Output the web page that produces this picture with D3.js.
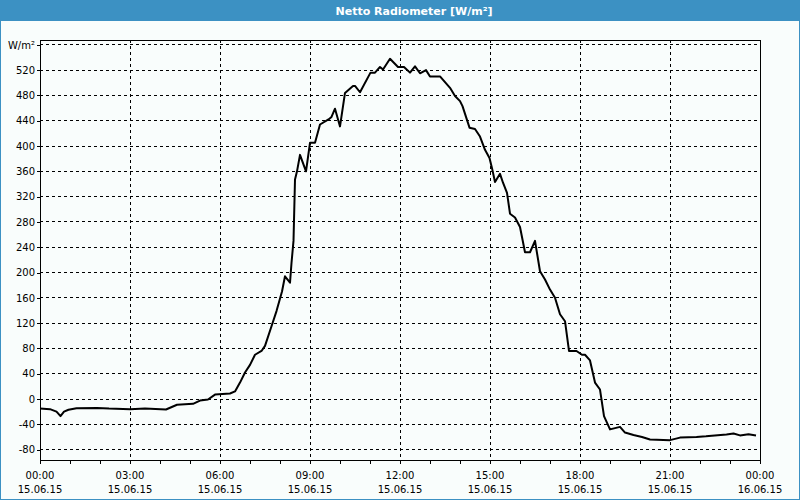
<!DOCTYPE html>
<html>
<head>
<meta charset="utf-8">
<script src="https://cdn.jsdelivr.net/npm/d3@7"></script>
<style>
  html, body { margin: 0; padding: 0; background: #fff; }
  svg { display: block; }
  text { font-family: "DejaVu Sans", Verdana, sans-serif; }
</style>
</head>
<body>
<svg id="chart" width="800" height="500"></svg>
<script>
// ---- data ----
const title = "Netto Radiometer [W/m²]";
const unitLabel = "W/m²";
const times = ["00:00","00:20","00:33","00:41","00:48","00:57","01:13","01:54","02:18","03:00",
  "03:30","04:12","04:34","05:06","05:20","05:36","05:50","06:20","06:30","06:40",
  "06:50","07:00","07:10","07:23","07:30","07:43","07:53","08:04","08:10","08:20",
  "08:23","08:27","08:30","08:34","08:40","08:52","09:00","09:10","09:20","09:37",
  "09:43","09:50","10:00","10:10","10:26","10:30","10:40","11:01","11:10","11:20",
  "11:26","11:40","11:56","12:08","12:20","12:30","12:40","12:52","13:00","13:20",
  "13:40","13:50","14:00","14:05","14:19","14:30","14:40","14:50","14:59","15:04",
  "15:10","15:20","15:26","15:34","15:40","15:50","16:00","16:10","16:20","16:30",
  "16:40","16:50","17:00","17:10","17:20","17:30","17:38","17:53","18:04","18:10",
  "18:20","18:30","18:40","18:48","19:00","19:20","19:30","19:47","20:04","20:20",
  "21:00","21:20","21:53","22:12","22:53","23:07","23:20","23:37","23:52"];
const values = [-15,-16,-20,-27,-20,-17,-14.5,-14,-15,-16,
  -15,-16.6,-9,-7.6,-2.4,-0.8,7,8.7,12,26,
  42,54,70,76,84,115,139,170,194,184,
  215,250,347,360,386,360,405,405,434,442,
  446,459,431,484,495,495,485,516,516,525,
  521,538,525,525,516,526,515,520,510,510,
  492,479,471,463,429,427,415,394,381,365,
  343,356,342,326,293,287,272,232,232,250,
  202,189,173,160,134,123,76,76,70,70,
  61,26,15,-27,-48,-44,-53,-57,-60,-64,
  -65,-61,-60,-59,-56,-54.5,-57.5,-55.6,-57.5];
const yTicks = [-80,-40,0,40,80,120,160,200,240,280,320,360,400,440,480,520,560];
const xTickLabels = [["00:00","15.06.15"],["03:00","15.06.15"],["06:00","15.06.15"],["09:00","15.06.15"],
  ["12:00","15.06.15"],["15:00","15.06.15"],["18:00","15.06.15"],["21:00","15.06.15"],["00:00","16.06.15"]];

// ---- layout ----
const W = 800, H = 500;
const pL = 40, pR = 760, pT = 40, pB = 460;
const blue = "#3c91c3";

const parse = d3.timeParse("%Y-%m-%d %H:%M");
const t0 = parse("2015-06-15 00:00"), t1 = parse("2015-06-16 00:00");
const data = times.map((t, i) => ({ t: parse("2015-06-15 " + t), v: values[i] }));

const x = d3.scaleTime().domain([t0, t1]).range([pL, pR]);
const y = d3.scaleLinear().domain([-96.4, 567.6]).range([pB, pT]);

const svg = d3.select("#chart");

// background + frame
svg.append("rect").attr("x", 0).attr("y", 0).attr("width", W).attr("height", H).attr("fill", "#f9fdfc");
svg.append("rect").attr("x", 0.5).attr("y", 0.5).attr("width", W - 1).attr("height", H - 1)
  .attr("fill", "none").attr("stroke", blue);
svg.append("rect").attr("x", 0).attr("y", 0).attr("width", W).attr("height", 21).attr("fill", blue);
svg.append("text").attr("x", 414).attr("y", 11).attr("text-anchor", "middle")
  .attr("dominant-baseline", "central").attr("fill", "#fff").attr("font-weight", "bold")
  .attr("font-size", "11px").text(title);

// grid
const hourTicks = d3.range(0, 25).map(h => d3.timeHour.offset(t0, h));
const gridX = d3.range(3, 24, 3).map(h => d3.timeHour.offset(t0, h));
const g = svg.append("g").attr("stroke", "#000").attr("stroke-width", 1)
  .attr("stroke-dasharray", "3,3").attr("shape-rendering", "crispEdges");
g.selectAll("line.h").data(yTicks).join("line").attr("class", "h")
  .attr("x1", pL).attr("x2", pR)
  .attr("y1", d => Math.floor(y(d)) + 0.5).attr("y2", d => Math.floor(y(d)) + 0.5);
g.selectAll("line.v").data(gridX).join("line").attr("class", "v")
  .attr("y1", pT).attr("y2", pB)
  .attr("x1", d => Math.floor(x(d)) + 0.5).attr("x2", d => Math.floor(x(d)) + 0.5);

// y axis
const yAxis = d3.axisLeft(y).tickValues(yTicks).tickSize(3).tickPadding(2)
  .tickFormat(d => d === 560 ? unitLabel : d);
const ya = svg.append("g").attr("transform", `translate(${pL},0)`).call(yAxis);
ya.select(".domain").remove();
ya.selectAll("line").attr("stroke", "#000").attr("shape-rendering", "crispEdges");
ya.selectAll("text").attr("font-size", "10px").attr("fill", "#000")
  .attr("font-family", "DejaVu Sans, sans-serif");

// x axis
const xAxis = d3.axisBottom(x).tickValues(hourTicks).tickSize(4).tickFormat("");
const xa = svg.append("g").attr("transform", `translate(0,${pB})`).call(xAxis);
xa.select(".domain").remove();
xa.selectAll("line").attr("stroke", "#000").attr("shape-rendering", "crispEdges");
const labelTicks = d3.range(0, 25, 3).map(h => d3.timeHour.offset(t0, h));
const xl = svg.append("g").selectAll("text").data(labelTicks).join("text")
  .attr("text-anchor", "middle").attr("font-size", "10px").attr("fill", "#000");
xl.append("tspan").attr("x", d => x(d)).attr("y", 479).text((d, i) => xTickLabels[i][0]);
xl.append("tspan").attr("x", d => x(d)).attr("y", 493).text((d, i) => xTickLabels[i][1]);

// plot border
svg.append("rect").attr("x", pL + 0.5).attr("y", pT + 0.5)
  .attr("width", pR - pL).attr("height", pB - pT)
  .attr("fill", "none").attr("stroke", "#000").attr("shape-rendering", "crispEdges");

// line
const line = d3.line().x(d => x(d.t)).y(d => y(d.v));
svg.append("path").datum(data).attr("d", line).attr("fill", "none")
  .attr("stroke", "#000").attr("stroke-width", 2).attr("stroke-linejoin", "round");
</script>
</body>
</html>
